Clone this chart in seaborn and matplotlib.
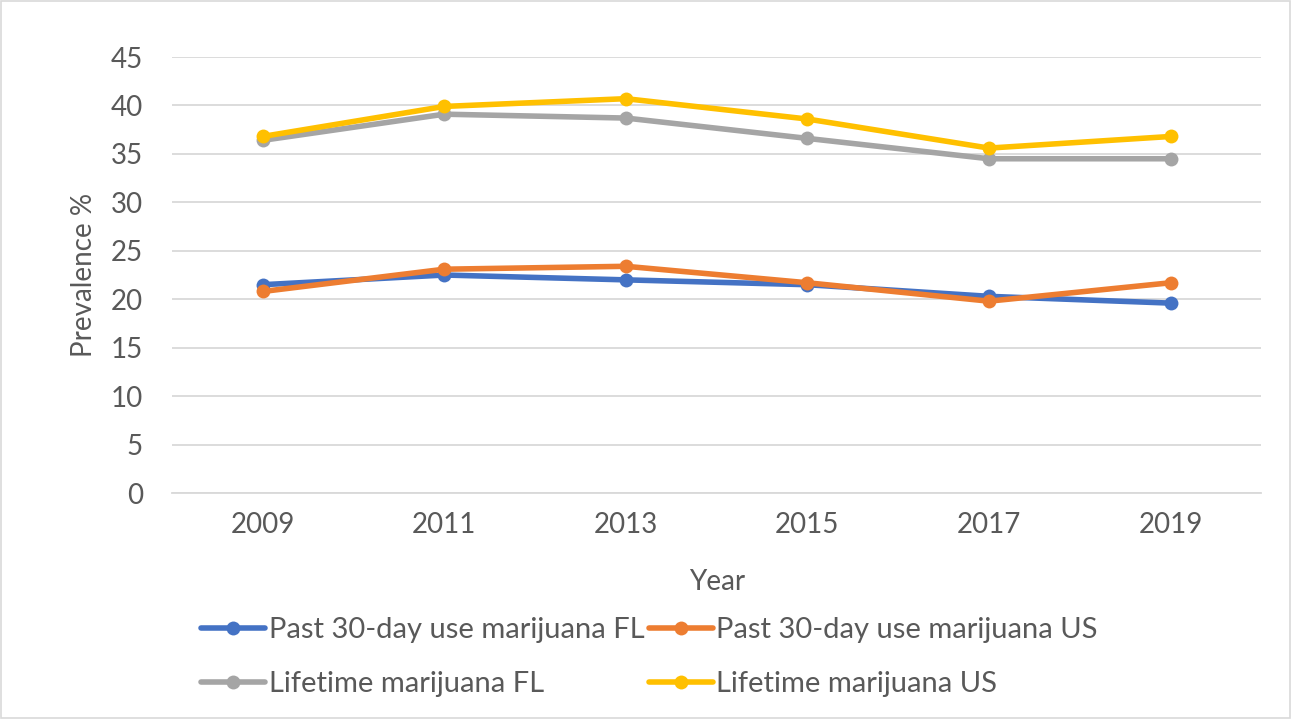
import matplotlib
matplotlib.use("Agg")
import matplotlib.pyplot as plt
import seaborn as sns
import pandas as pd

years = [2009, 2011, 2013, 2015, 2017, 2019]
series_names = [
    "Past 30-day use marijuana FL",
    "Past 30-day use marijuana US",
    "Lifetime marijuana FL",
    "Lifetime marijuana US",
]
past30_fl = [21.5, 22.5, 22.0, 21.5, 20.3, 19.6]
past30_us = [20.8, 23.1, 23.4, 21.7, 19.8, 21.7]
lifetime_fl = [36.4, 39.1, 38.7, 36.6, 34.5, 34.5]
lifetime_us = [36.8, 39.9, 40.7, 38.6, 35.6, 36.8]
colors = ["#4472C4", "#ED7D31", "#A5A5A5", "#FFC000"]

df = pd.concat(
    [
        pd.DataFrame({"Year": years, "Prevalence": vals, "Series": name})
        for name, vals in zip(series_names, [past30_fl, past30_us, lifetime_fl, lifetime_us])
    ],
    ignore_index=True,
)

sns.set_theme(style="white")
plt.rcParams["font.family"] = ["Lato", "DejaVu Sans"]
text_color = "#595959"

fig = plt.figure(figsize=(12.91, 7.19), dpi=100)
ax = fig.add_axes([0.1332, 0.3143, 0.8438, 0.6064])

sns.lineplot(
    data=df, x="Year", y="Prevalence", hue="Series",
    hue_order=series_names, palette=colors,
    marker="o", markersize=10, markeredgewidth=0,
    linewidth=4, ax=ax, legend=True,
)

ax.set_xlim(2008, 2020)
ax.set_ylim(0, 45)
ax.set_xticks(years)
ax.set_xticklabels([str(y) for y in years])
ax.set_yticks(range(0, 50, 5))
ax.yaxis.grid(True, color="#D9D9D9", linewidth=1.3)
ax.xaxis.grid(False)
for side in ["top", "right", "left"]:
    ax.spines[side].set_visible(False)
ax.spines["bottom"].set_color("#D9D9D9")
ax.spines["bottom"].set_linewidth(1.3)
ax.tick_params(axis="x", labelsize=20, colors=text_color, length=0, pad=14)
ax.tick_params(axis="y", labelsize=20, colors=text_color, length=0, pad=21)
ax.set_axisbelow(True)

ax.set_xlabel("Year", fontsize=20, color=text_color, labelpad=22)
ax.set_ylabel("Prevalence %", fontsize=20, color=text_color, labelpad=10)

# legend laid out row by row: FL/US past-30-day on top, lifetime below
handles, labels = ax.get_legend_handles_labels()
order = [0, 2, 1, 3]
ax.legend(
    [handles[i] for i in order], [labels[i] for i in order],
    ncol=2, loc="upper center",
    bbox_to_anchor=(0.503, 0.158), bbox_transform=fig.transFigure,
    frameon=False, fontsize=21, labelcolor=text_color,
    handlelength=2.2, handletextpad=0.12, columnspacing=0.15,
    labelspacing=0.95, borderaxespad=0,
)

fig.patches.append(
    plt.Rectangle((0.001, 0.001), 0.998, 0.998, transform=fig.transFigure,
                  fill=False, edgecolor="#D9D9D9", linewidth=1.2)
)

fig.savefig("out.png", dpi=100)
